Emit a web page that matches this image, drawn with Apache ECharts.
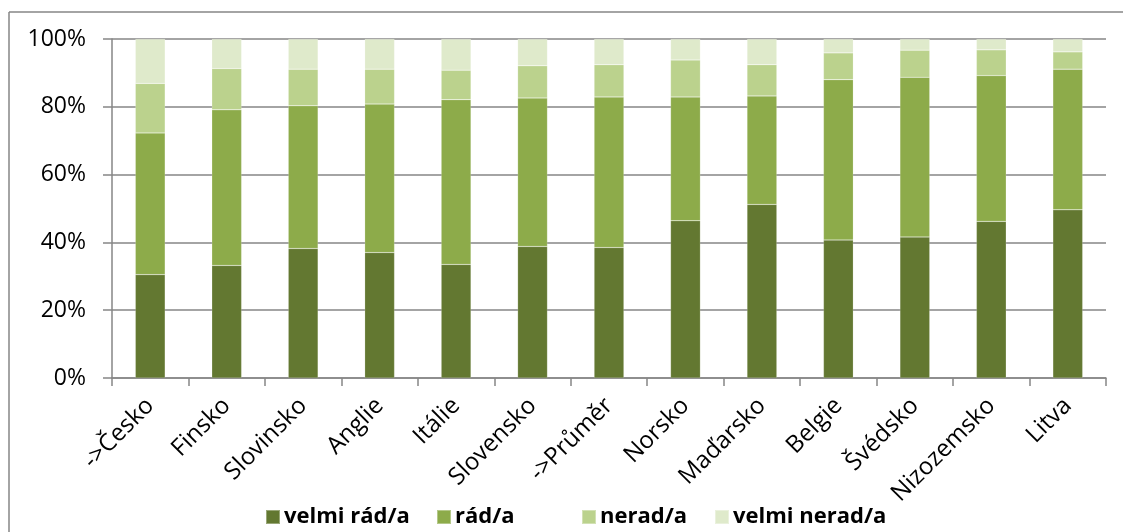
<!DOCTYPE html>
<html>
<head>
<meta charset="utf-8">
<script src="https://cdn.jsdelivr.net/npm/echarts@6/dist/echarts.min.js"></script>
<style>
html,body{margin:0;padding:0;background:#fff;}
#c{width:1123px;height:532px;}
</style>
</head>
<body>
<div id="c"></div>
<script>
const categories = ['->Česko','Finsko','Slovinsko','Anglie','Itálie','Slovensko','->Průměr','Norsko','Maďarsko','Belgie','Švédsko','Nizozemsko','Litva'];
const velmiRad  = [30.5, 33.2, 38.2, 37.0, 33.5, 38.8, 38.5, 46.4, 51.2, 40.7, 41.6, 46.2, 49.6];
const rad       = [41.8, 45.9, 42.1, 43.8, 48.6, 43.8, 44.4, 36.5, 32.0, 47.3, 47.1, 43.0, 41.5];
const nerad     = [14.6, 12.2, 10.8, 10.3,  8.7,  9.5,  9.5, 10.9,  9.2,  7.9,  8.0,  7.6,  5.1];
const velmiNerad= [13.1,  8.7,  8.9,  8.9,  9.2,  7.9,  7.6,  6.2,  7.6,  4.1,  3.3,  3.2,  3.8];
const seriesNames = ['velmi rád/a','rád/a','nerad/a','velmi nerad/a'];
const colors = ['#637831','#8DAB4A','#BBD28D','#DFEACB'];
const yTicks = [0,20,40,60,80,100];

const FONT = 'Open Sans';
const chart = echarts.init(document.getElementById('c'), null, {renderer:'canvas'});
const data = [velmiRad, rad, nerad, velmiNerad];
const legendLefts = [265, 436, 581, 714];
chart.setOption({
  animation:false,
  backgroundColor:'#fff',
  color: colors,
  grid:{left:112, right:17, top:39, bottom:154, containLabel:false},
  legend: seriesNames.map((n,i)=>({
    data:[n],
    top: 506,
    left: legendLefts[i],
    padding:0,
    itemWidth:14, itemHeight:14, itemGap:0,
    icon:'rect',
    textStyle:{fontFamily:FONT, fontSize:22, fontWeight:'bold', color:'#000', padding:[0,0,0,-1]}
  })),
  xAxis:{
    type:'category',
    data: categories,
    axisLine:{lineStyle:{color:'#868686', width:1.5}},
    axisTick:{show:true, alignWithLabel:false, length:8, lineStyle:{color:'#868686', width:1.5}},
    axisLabel:{rotate:45, fontFamily:FONT, fontSize:24, color:'#000', margin:24, interval:0}
  },
  yAxis:{
    type:'value', min:0, max:100, interval:20,
    axisLine:{show:true, lineStyle:{color:'#868686', width:1.5}},
    axisTick:{show:true, length:9, lineStyle:{color:'#868686', width:1.5}},
    axisLabel:{formatter: v => yTicks.includes(v) ? v + '%' : '', fontFamily:FONT, fontSize:23, color:'#000', margin:26},
    splitLine:{show:true, lineStyle:{color:'#868686', width:1.5}}
  },
  series: seriesNames.map((n,i)=>({
    name:n, type:'bar', stack:'all', data:data[i],
    barWidth:'39%',
    itemStyle:{color:colors[i], borderColor:'rgba(255,255,255,0.35)', borderWidth:0.5}
  })),
  graphic:[
    {type:'line', shape:{x1:9, y1:12, x2:1123, y2:12}, style:{stroke:'#868686', lineWidth:1.5}},
    {type:'line', shape:{x1:9, y1:12, x2:9, y2:532}, style:{stroke:'#868686', lineWidth:1.5}}
  ]
});
</script>
</body>
</html>
